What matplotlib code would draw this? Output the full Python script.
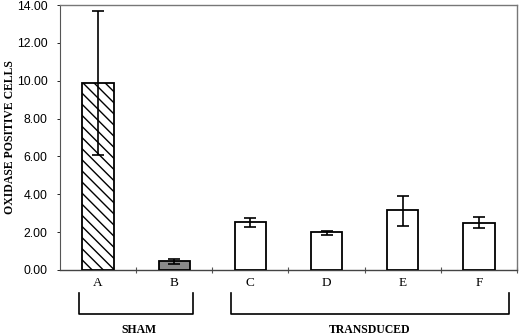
import numpy as np
import matplotlib.pyplot as plt

categories = ['A', 'B', 'C', 'D', 'E', 'F']
values = [9.9, 0.45, 2.55, 2.0, 3.17, 2.5]
err_low = [6.05, 0.3, 2.28, 1.85, 2.32, 2.2]
err_high = [13.7, 0.6, 2.75, 2.08, 3.92, 2.78]
yticks = [0, 2, 4, 6, 8, 10, 12, 14]

plt.rcParams['font.family'] = ['Liberation Sans', 'DejaVu Sans']
serif = ['Liberation Serif', 'DejaVu Serif']

fig = plt.figure(figsize=(5.2, 3.36), dpi=100)
ax = fig.add_axes([60 / 520, 66 / 336, 457 / 520, 265 / 336])

x = np.arange(len(categories))
vals = np.array(values)
yerr = [vals - np.array(err_low), np.array(err_high) - vals]

bars = ax.bar(x, vals, width=0.41, facecolor='white', edgecolor='black',
              linewidth=1.3, zorder=3)
bars[0].set_hatch('\\\\\\')
bars[1].set_facecolor('#8a8a8a')
ax.errorbar(x, vals, yerr=yerr, fmt='none', ecolor='black', elinewidth=1.2,
            capsize=4, capthick=1.2, zorder=4)

ax.set_xlim(-0.5, 5.5)
ax.set_ylim(0, 14)
ax.set_yticks(yticks)
ax.set_yticklabels([f'{v:.2f}' for v in yticks], fontsize=8.8)
ax.set_xticks(np.arange(0.5, 5.6, 1.0))
ax.set_xticklabels([])
ax.tick_params(axis='x', direction='inout', length=5, width=0.8, color='#555555')
ax.tick_params(axis='y', direction='out', length=2, width=0.6, pad=7)

for side in ['top', 'right', 'bottom']:
    ax.spines[side].set_linestyle((0, (1, 1)))
    ax.spines[side].set_color('#444444')
    ax.spines[side].set_linewidth(1.0)
ax.spines['top'].set_color('#777777')
ax.spines['right'].set_color('#777777')
ax.spines['left'].set_color('#555555')
ax.spines['left'].set_linewidth(0.8)

fig.text(10 / 520, (336 - 137) / 336, 'OXIDASE POSITIVE CELLS', rotation=90,
         ha='center', va='center', fontsize=8.5, fontweight='bold', family=serif)

for xi, lab in zip(x, categories):
    ax.text(xi, -0.68, lab, ha='center', va='center', fontsize=9.5,
            family=serif, clip_on=False)


def bracket(x0, x1, label, lx):
    y0, y1 = -1.2, -2.3
    ax.plot([x0, x0, x1, x1], [y0, y1, y1, y0], color='black', lw=1.2,
            clip_on=False)
    ax.text(lx, -3.15, label, ha='center', va='center', fontsize=8.5,
            fontweight='bold', family=serif, clip_on=False)


bracket(-0.25, 1.25, 'SHAM', 0.54)
bracket(1.74, 5.4, 'TRANSDUCED', 3.57)

fig.savefig('out.png', dpi=100)
